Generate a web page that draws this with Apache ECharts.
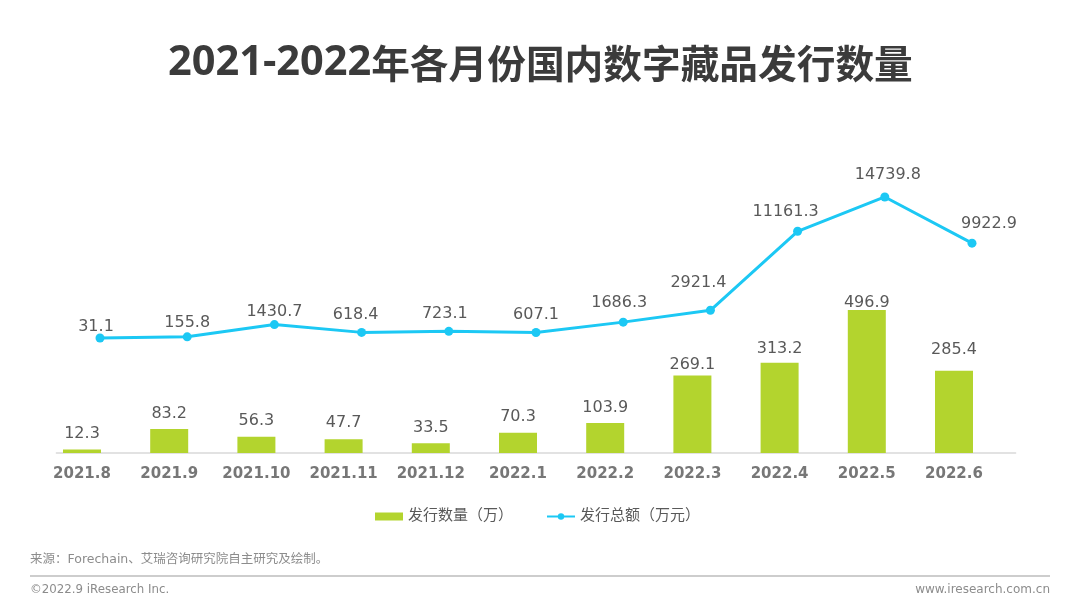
<!DOCTYPE html>
<html>
<head>
<meta charset="utf-8">
<title>2021-2022年各月份国内数字藏品发行数量</title>
<script src="https://cdn.jsdelivr.net/npm/echarts@6/dist/echarts.min.js"></script>
<style>
    html, body { margin: 0; padding: 0; background: #fff; }
    #chart { width: 1080px; height: 609px; }
</style>
</head>
<body>
<div id="chart"></div>
<script>
const months = ['2021.8', '2021.9', '2021.10', '2021.11', '2021.12', '2022.1', '2022.2', '2022.3', '2022.4', '2022.5', '2022.6']
const issueCount = [12.3, 83.2, 56.3, 47.7, 33.5, 70.3, 103.9, 269.1, 313.2, 496.9, 285.4]
const issueAmount = [31.1, 155.8, 1430.7, 618.4, 723.1, 607.1, 1686.3, 2921.4, 11161.3, 14739.8, 9922.9]

const countName = '发行数量（万）'
const amountName = '发行总额（万元）'
const fontFamily = '"DejaVu Sans", "Noto Sans CJK SC", sans-serif'

// 标签在原图里不是正对数据点，按序号微调
const amountLabelShift = [[-4, 6], [0, 4], [0, 5], [-6, 0], [-4, 0], [0, 0], [-4, -2], [-12, -10], [-12, -2], [3, -5], [17, -2]]
const countLabelShift = [[0, -6], [0, -5], [0, -6], [0, -6], [0, -6], [0, -6], [0, -5], [0, -1], [0, -4], [0, 3], [0, -11]]

const withLabelShift = (values, shift) => values.map((value, i) => ({
    value,
    label: { offset: shift[i] }
}))

const chart = echarts.init(document.getElementById('chart'), null, { renderer: 'canvas' })

const hiddenY = (gridIndex, min, max) => ({
    type: 'value', gridIndex, min, max, show: false, splitLine: { show: false }
})

chart.setOption({
    animation: false,
    backgroundColor: '#ffffff',
    title: {
        text: '{latin|2021-2022}{cjk|年各月份国内数字藏品发行数量}',
        left: 163,
        top: 37,
        textStyle: {
            rich: {
                latin: { color: '#3b3b3b', fontSize: 41.5, fontWeight: 'bold', fontFamily: '"Open Sans", sans-serif' },
                cjk: { color: '#3b3b3b', fontSize: 38.7, fontWeight: 'bold', fontFamily: '"Noto Sans CJK SC", sans-serif' }
            }
        }
    },
    legend: {
        left: 370,
        top: 504,
        itemWidth: 28,
        itemHeight: 8,
        itemGap: 33,
        textStyle: { color: '#595959', fontSize: 15, fontFamily },
        data: [
            { name: countName, icon: 'rect' },
            { name: amountName }
        ]
    },
    // 柱子和折线在原图中错开约半根柱宽，所以用两个 grid
    grid: [
        { left: 38.4, width: 959.2, top: 100, height: 353 },
        { left: 56.4, width: 959.2, top: 100, height: 353 }
    ],
    xAxis: [
        {
            type: 'category', gridIndex: 0, data: months,
            axisLine: { show: false },
            axisTick: { show: false },
            axisLabel: { interval: 0, margin: 14, color: '#777777', fontSize: 15, fontWeight: 'bold', fontFamily }
        },
        {
            type: 'category', gridIndex: 1, data: months,
            axisLine: { onZero: false, lineStyle: { color: '#d9d9d9', width: 1.5 } },
            axisTick: { show: false },
            axisLabel: { show: false }
        }
    ],
    yAxis: [hiddenY(0, 0, 1226), hiddenY(1, -11960, 24850)],
    series: [
        {
            name: countName,
            type: 'bar',
            xAxisIndex: 0,
            yAxisIndex: 0,
            barWidth: 38,
            itemStyle: { color: '#b3d42e' },
            label: { show: true, position: 'top', distance: 2, color: '#595959', fontSize: 16, fontFamily },
            data: withLabelShift(issueCount, countLabelShift)
        },
        {
            name: amountName,
            type: 'line',
            xAxisIndex: 1,
            yAxisIndex: 1,
            symbol: 'circle',
            symbolSize: 9,
            lineStyle: { color: '#1cc8f4', width: 3 },
            itemStyle: { color: '#1cc8f4' },
            label: { show: true, position: 'top', distance: 5, color: '#595959', fontSize: 16, fontFamily },
            data: withLabelShift(issueAmount, amountLabelShift)
        }
    ],
    graphic: [
        {
            type: 'text', left: 30, top: 553,
            style: { text: '来源：Forechain、艾瑞咨询研究院自主研究及绘制。', fill: '#8c8c8c', font: '12.5px ' + fontFamily }
        },
        {
            type: 'line', shape: { x1: 30, y1: 576, x2: 1050, y2: 576 },
            style: { stroke: '#bdbdbd', lineWidth: 1.5 }
        },
        {
            type: 'text', left: 30, top: 584,
            style: { text: '©2022.9 iResearch Inc.', fill: '#8c8c8c', font: '11.8px ' + fontFamily }
        },
        {
            type: 'text', right: 30, top: 584,
            style: { text: 'www.iresearch.com.cn', fill: '#8c8c8c', font: '12px ' + fontFamily }
        }
    ]
})
</script>
</body>
</html>
